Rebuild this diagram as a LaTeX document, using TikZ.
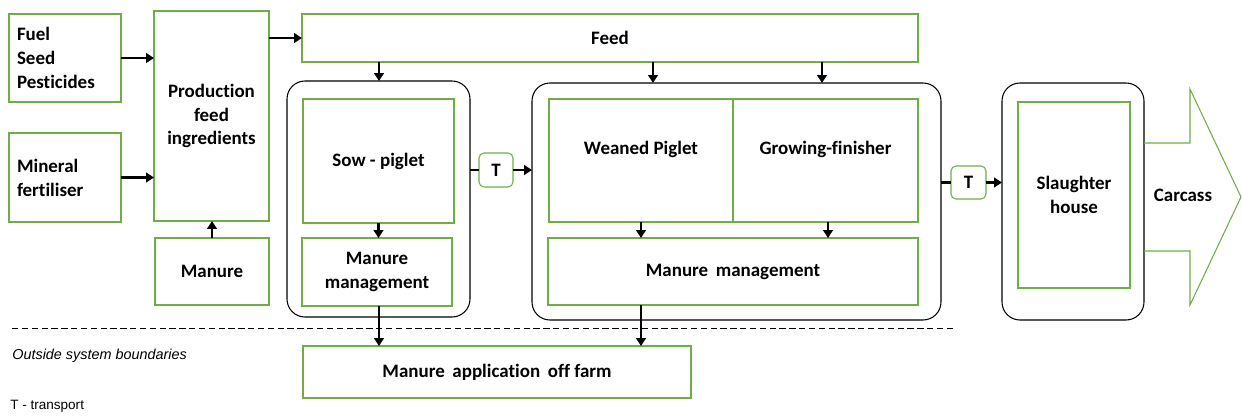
\documentclass[tikz,border=0pt]{standalone}
\usepackage{fontspec}
\setmainfont[Ligatures=NoCommon]{Carlito}
\newfontfamily\arialfont{Liberation Sans}
\usetikzlibrary{arrows.meta}
\definecolor{boxgreen}{RGB}{112,173,71}
\newcommand{\wsp}{\hspace{0.4em}}
\begin{document}
\begin{tikzpicture}[x=0.02cm,y=-0.02cm,
  lbl/.style={font=\fontsize{10.8}{13.6}\selectfont\bfseries,align=center,inner sep=0pt},
  gbox/.style 2 args={draw=boxgreen,line width=0.6pt,fill=white,minimum width=#1*0.02cm,minimum height=#2*0.02cm,inner sep=0pt,outer sep=0pt,lbl},
  obox/.style 2 args={draw=black,line width=0.6pt,fill=white,rounded corners=0.36cm,minimum width=#1*0.02cm,minimum height=#2*0.02cm,inner sep=0pt,outer sep=0pt},
  tbox/.style={gbox={34}{34},rounded corners=0.1cm},
  arr/.style={line width=1.4pt,-{Triangle[length=4.5pt,width=5.5pt]}},
  link/.style={line width=1.4pt}
]
\useasboundingbox (0,0) rectangle (1242,416);

% left inputs
\node[gbox={112}{88},text width=1.92cm,align=left] (fuel) at (65,58) {Fuel\\Seed\\Pesticides};
\node[gbox={112}{89},text width=1.92cm,align=left] (mineral) at (65,177.5) {Mineral\\fertiliser};
\node[gbox={115}{210}] (prod) at (211.5,116) {Production\\feed\\ingredients};
\node[gbox={114}{67}] (manure) at (212,271.5) {Manure};
\node[gbox={616}{48}] (feed) at (610,38) {Feed};

% sow unit
\node[obox={183}{236}] (sowo) at (378.5,199) {};
\node[gbox={151}{124}] (sowp) at (378.5,161) {Sow - piglet};
\node[gbox={150}{68}] (mm1) at (377,272) {Manure\\management};
\node[tbox] (t1) at (496,170) {T};

% fattening unit
\node[obox={409}{237}] (bigo) at (736.5,201.5) {};
\node[gbox={184}{123}] (weaned) at (641,160.5) {};
\node[gbox={185}{123}] (grow) at (825.5,160.5) {};
\node[lbl] (wtext) at (641,149) {Weaned Piglet};
\node[lbl] (gtext) at (825.5,149) {Growing-finisher};
\node[gbox={370}{67}] (mm2) at (733,271.5) {Manure\wsp management};
\node[tbox,minimum width=35*0.02cm,minimum height=33*0.02cm] (t2) at (968.5,182.5) {T};

% slaughter
\node[obox={142}{237}] (slo) at (1073,201.5) {};
\node[gbox={112}{186}] (sli) at (1074,195) {Slaughter\\house};
\draw[boxgreen,line width=0.6pt] (slo.east |- 0,143) -- (1190,143) -- (1190,89) -- (1241,197) -- (1190,305) -- (1190,251) -- (slo.east |- 0,251);
\node[lbl] (carc) at (1183,195) {Carcass};

% outside
\draw[dash pattern=on 3.6pt off 2pt,line width=0.5pt] (12,328) -- (955,328);
\node[gbox={388}{52}] (manapp) at (497,372) {Manure\wsp application\wsp off farm};
\node[anchor=west,inner sep=0pt,font=\arialfont\itshape\fontsize{8.2}{10}\selectfont] (osb) at (12,356) {Outside system boundaries};
\node[anchor=west,inner sep=0pt,font=\arialfont\fontsize{7.7}{9}\selectfont] (tt) at (10,406) {T - transport};

% arrows
\draw[arr] (fuel.east) -- (fuel.east -| prod.west);
\draw[arr] (mineral.east) -- (mineral.east -| prod.west);
\draw[arr] (manure.north) -- (prod.south -| manure.north);
\draw[arr] (feed.west -| prod.east) -- (feed.west);
\draw[arr] (feed.south -| 379,0) -- (sowo.north -| 379,0);
\draw[arr] (feed.south -| 653,0) -- (bigo.north -| 653,0);
\draw[arr] (feed.south -| 822,0) -- (bigo.north -| 822,0);
\draw[arr] (sowp.south) -- (mm1.north -| sowp.south);
\draw[arr] (weaned.south) -- (mm2.north -| weaned.south);
\draw[arr] (grow.south -| 828,0) -- (mm2.north -| 828,0);
\draw[link] (sowo.east |- t1.west) -- (t1.west);
\draw[arr] (t1.east) -- (t1.east -| bigo.west);
\draw[link] (bigo.east |- t2.west) -- (t2.west);
\draw[arr] (t2.east) -- (t2.east -| slo.west);
\draw[arr] (mm1.south -| 379,0) -- (manapp.north -| 379,0);
\draw[arr] (mm2.south -| 641,0) -- (manapp.north -| 641,0);
\end{tikzpicture}
\end{document}
